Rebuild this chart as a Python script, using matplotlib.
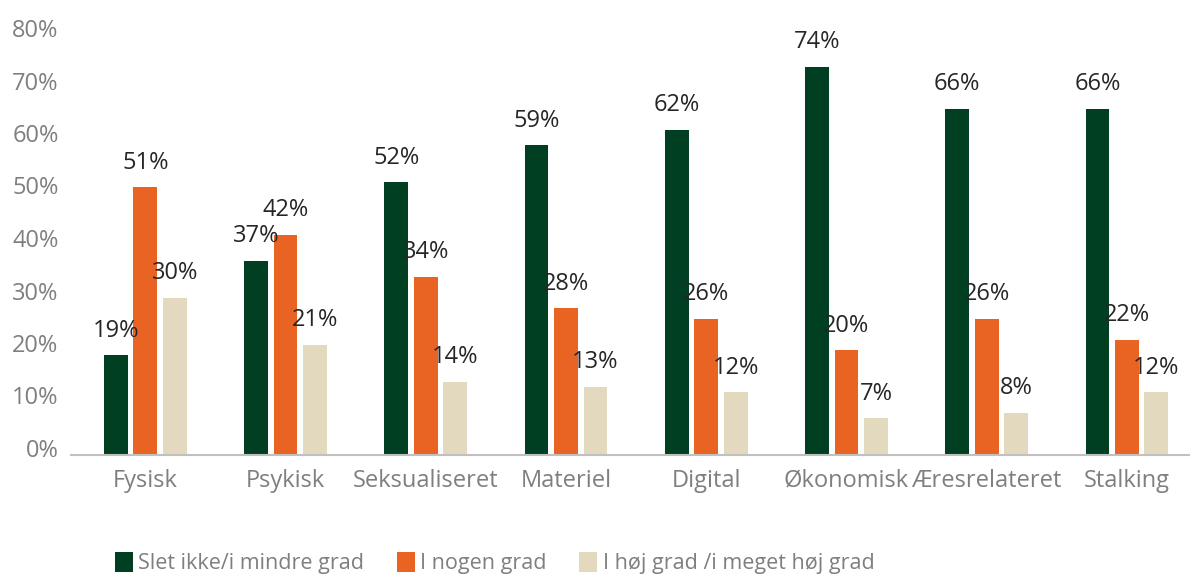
import matplotlib.pyplot as plt
import matplotlib.transforms as mtransforms
import numpy as np

plt.rcParams['font.family'] = ['Open Sans', 'DejaVu Sans']

categories = ['Fysisk', 'Psykisk', 'Seksualiseret', 'Materiel', 'Digital',
              'Økonomisk', 'Æresrelateret', 'Stalking']
slet_ikke = [19, 37, 52, 59, 62, 74, 66, 66]
nogen_grad = [51, 42, 34, 28, 26, 20, 26, 22]
hoej_grad = [30, 21, 14, 13, 12, 7, 8, 12]

series = [
    ('Slet ikke/i mindre grad', slet_ikke, '#003f22'),
    ('I nogen grad', nogen_grad, '#e96323'),
    ('I høj grad /i meget høj grad', hoej_grad, '#e3d9bf'),
]

fig = plt.figure(figsize=(11.9, 5.75), dpi=100)
ax = fig.add_axes([71 / 1190, 1 - 455 / 575, 1119 / 1190, 420 / 575])

x = np.arange(len(categories))
pitch = 0.21
width = 0.17
for i, (name, vals, col) in enumerate(series):
    pos = x + (i - 1) * pitch
    ax.bar(pos, vals, width, color=col, label=name)
    for p, v in zip(pos, vals):
        ax.annotate(f'{v}%', (p, v), xytext=(0, 9), textcoords='offset points',
                    ha='center', va='bottom', fontsize=17, color='#262626')

ax.set_ylim(0, 80)
ax.set_xlim(-0.53, 7.45)
ax.set_yticks(range(0, 81, 10))
ax.set_yticklabels([f'{t}%' for t in range(0, 81, 10)])
ax.set_xticks(x)
ax.set_xticklabels(categories)
ax.tick_params(axis='both', length=0, labelsize=17, colors='#7f7f7f')
ax.tick_params(axis='x', pad=10)
ax.tick_params(axis='y', pad=9)
# y labels sit a little above their levels in the original
shift = mtransforms.ScaledTranslation(0, 7 / 100, fig.dpi_scale_trans)
for lab in ax.get_yticklabels():
    lab.set_transform(lab.get_transform() + shift)
for s in ['top', 'right', 'left']:
    ax.spines[s].set_visible(False)
ax.spines['bottom'].set_color('#c0c0c0')
ax.spines['bottom'].set_linewidth(1.5)

leg = fig.legend(loc='center left', bbox_to_anchor=(106 / 1190, 1 - 563 / 575),
                 ncol=3, frameon=False, fontsize=15.5, handlelength=0.85,
                 handleheight=1.1, handletextpad=0.25, columnspacing=1.5,
                 borderaxespad=0)
for t in leg.get_texts():
    t.set_color('#7f7f7f')

fig.savefig('out.png', dpi=100)
